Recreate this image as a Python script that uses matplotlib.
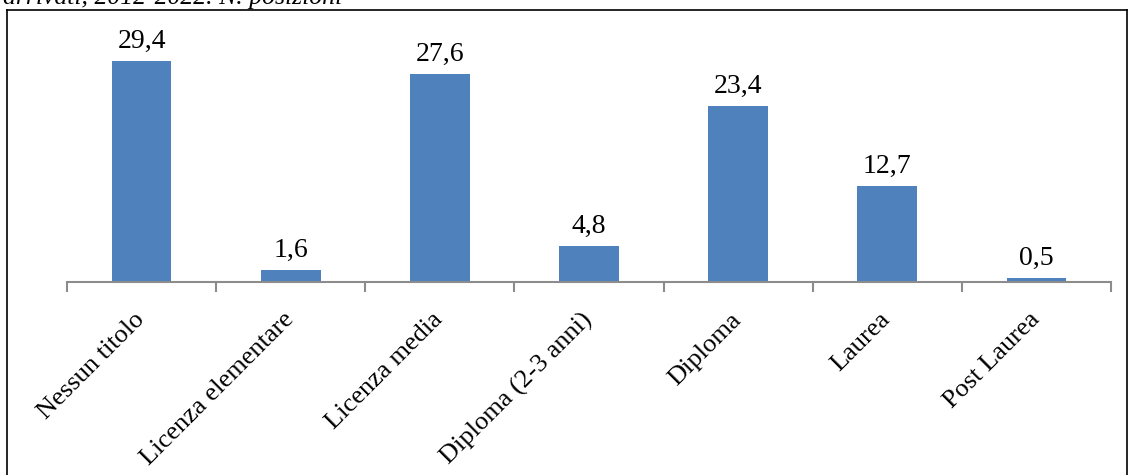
import matplotlib

matplotlib.use("Agg")
import matplotlib.pyplot as plt
from matplotlib.lines import Line2D
from matplotlib.transforms import ScaledTranslation

categories = ["Nessun titolo", "Licenza elementare", "Licenza media",
              "Diploma (2-3 anni)", "Diploma", "Laurea", "Post Laurea"]
values = [29.4, 1.6, 27.6, 4.8, 23.4, 12.7, 0.5]
value_labels = ["29,4", "1,6", "27,6", "4,8", "23,4", "12,7", "0,5"]

plt.rcParams["font.family"] = ["Liberation Serif", "DejaVu Serif"]

W, H = 1129, 475
fig = plt.figure(figsize=(W / 100, H / 100), dpi=100)
ax = fig.add_axes([67 / W, (H - 282) / H, 1044 / W, 272 / H])

x = range(len(categories))
ax.bar(x, values, width=0.4, color="#4f81bd")
for xi, v, lab in zip(x, values, value_labels):
    ax.annotate(lab, (xi, v), xytext=(0, 9.5), textcoords="offset points",
                ha="center", va="baseline", fontsize=20)

ax.set_xlim(-0.5, len(categories) - 0.5)
ax.set_ylim(0, 272 / 7.52)
ax.set_yticks([])
for s in ["top", "right", "left"]:
    ax.spines[s].set_visible(False)
ax.spines["bottom"].set_color("#8c8c8c")
ax.spines["bottom"].set_linewidth(1.5)

ax.set_xticks([i - 0.5 for i in range(len(categories) + 1)], minor=True)
ax.tick_params(axis="x", which="minor", length=7.5, width=1.5, color="#8c8c8c")
ax.set_xticks(list(x))
ax.set_xticklabels(categories, rotation=45, ha="right", va="top",
                   rotation_mode="anchor", fontsize=19)
ax.tick_params(axis="x", which="major", length=0, pad=17)
shift = ScaledTranslation(-8 / 100, -3 / 100, fig.dpi_scale_trans)
for lbl in ax.get_xticklabels():
    lbl.set_transform(lbl.get_transform() + shift)

# outer frame
kw = dict(color="black", linewidth=1.2, transform=fig.transFigure)
fig.add_artist(Line2D([6.5 / W, 6.5 / W], [0, 1 - 10 / H], **kw))
fig.add_artist(Line2D([6.5 / W, 1127 / W], [1 - 10 / H, 1 - 10 / H], **kw))
fig.add_artist(Line2D([1127 / W, 1127 / W], [0, 1 - 10 / H], **kw))

fig.text(3 / W, 1 - 4 / H, "arrivati, 2012-2022. N. posizioni", fontsize=18.5,
         style="italic", va="baseline", ha="left")

fig.savefig("out.png", dpi=100)
